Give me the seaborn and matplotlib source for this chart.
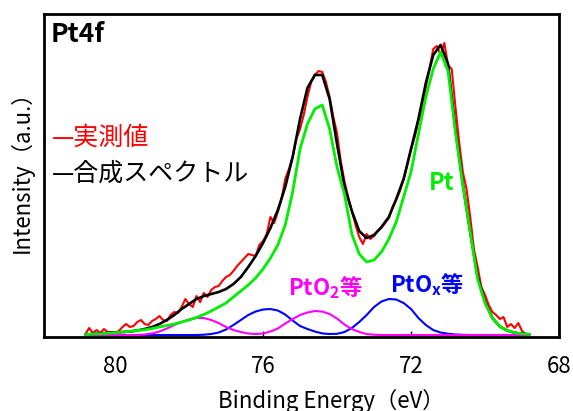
import numpy as np
import pandas as pd
import matplotlib
matplotlib.use("Agg")
import matplotlib.pyplot as plt
import seaborn as sns

# 結合エネルギー (eV) - フィット曲線用
energy = [80.8, 80.6, 80.4, 80.2, 80.0, 79.8, 79.6, 79.4, 79.2, 79.0,
          78.8, 78.6, 78.4, 78.2, 78.0, 77.8, 77.6, 77.4, 77.2, 77.0,
          76.8, 76.6, 76.4, 76.2, 76.0, 75.8, 75.6, 75.4, 75.2, 75.0,
          74.8, 74.6, 74.4, 74.2, 74.0, 73.8, 73.6, 73.4, 73.2, 73.0,
          72.8, 72.6, 72.4, 72.2, 72.0, 71.8, 71.6, 71.4, 71.2, 71.0,
          70.8, 70.6, 70.4, 70.2, 70.0, 69.8, 69.6, 69.4, 69.2, 69.0, 68.8]

# 合成スペクトル
fit_sum = [2.5, 3, 3.5, 4, 4.5, 5, 5.5, 6.5, 8, 10,
           13, 17, 22, 28, 33, 38, 41, 43, 45, 48,
           53, 60, 70, 81, 94, 109, 127, 150, 180, 218,
           249, 262, 262, 238, 193, 151, 126, 106, 99, 102,
           110, 120, 138, 158, 188, 218, 254, 282, 292, 273,
           208, 153, 105, 60, 35, 19, 10.5, 6.5, 4.3, 3.3, 2.7]

# Pt 成分
pt_metal = [2.5, 3, 3.3, 3.7, 4.2, 5, 5.7, 6.5, 7.3, 8.5,
            10, 11.5, 13, 15, 17, 19.5, 22.5, 26, 30, 34,
            40, 46, 52, 59, 68, 79, 92, 112, 145, 188,
            213, 228, 232, 208, 170, 143, 103, 83, 75, 77,
            85, 98, 115, 140, 165, 203, 240, 268, 285, 266,
            205, 152, 105, 58, 34, 19, 10.5, 6.5, 4.3, 3.3, 2.7]

# PtO2 等
pto2 = [2, 2, 2, 2, 2, 2, 2, 2, 2.5, 3.5,
        5.5, 8.5, 12, 15, 17.5, 19, 19, 17, 14, 10,
        7, 5, 3.5, 3, 3.5, 5.5, 8.5, 13.5, 18, 22,
        24.5, 26, 25.5, 23, 18.5, 12.5, 8, 5, 3, 2.3,
        2, 2, 2, 2, 2, 2, 2, 2, 2, 2,
        2, 2, 2, 2, 2, 2, 2, 2, 2, 2, 2]

# PtOx 等
ptox = [2, 2, 2, 2, 2, 2, 2, 2, 2, 2,
        2, 2, 2, 2, 2, 2, 2.3, 3, 4.5, 7.5,
        12, 17, 22, 25.5, 27.5, 28, 26.5, 22.5, 16.5, 11,
        8, 5.5, 3.6, 3, 3.2, 5, 9, 15, 22, 30,
        35.5, 38, 37.5, 34, 28, 19, 12, 7, 4.5, 3.3,
        2.5, 2.2, 2, 2, 2, 2, 2, 2, 2, 2, 2]

# 実測値 (0.1 eV 刻み)
meas_energy = [round(80.8 - 0.1 * i, 1) for i in range(120)]
measured = [3, 9, 4, 7, 4, 8, 5, 5, 4, 6,
            10, 13, 10, 11, 15, 17, 13, 12, 16, 18,
            21, 17, 16, 22, 25, 24, 30, 38, 33, 30,
            41, 35, 44, 40, 47, 50, 51, 56, 60, 62,
            66, 71, 75, 79, 83, 82, 81, 92, 96, 103,
            120, 114, 125, 138, 158, 168, 180, 198, 208, 222,
            240, 255, 262, 266, 265, 255, 240, 220, 204, 176,
            156, 140, 126, 112, 100, 93, 103, 98, 101, 106,
            109, 114, 119, 130, 137, 146, 158, 172, 188, 200,
            216, 226, 250, 268, 288, 291, 282, 294, 272, 268,
            230, 195, 165, 148, 120, 88, 70, 50, 42, 32,
            25, 22, 18, 20, 10, 13, 9, 14, 6, 3]

xticks = [80, 76, 72, 68]

sns.set_style("ticks")
plt.rcParams['font.family'] = ['Noto Sans CJK JP', 'DejaVu Sans']
plt.rcParams['text.color'] = 'black'
plt.rcParams['axes.labelcolor'] = 'black'
plt.rcParams['xtick.color'] = 'black'

fig = plt.figure(figsize=(5.73, 4.11), dpi=100)
ax = fig.add_axes([0.0768, 0.18, 0.8988, 0.786])

sns.lineplot(x=meas_energy, y=measured, color='#ff0000', lw=1.5,
             estimator=None, ax=ax)
sns.lineplot(x=energy, y=fit_sum, color='black', lw=1.9,
             estimator=None, ax=ax)
sns.lineplot(x=energy, y=ptox, color='#0000ff', lw=1.5,
             estimator=None, ax=ax)
sns.lineplot(x=energy, y=pto2, color='#ff00ff', lw=1.5,
             estimator=None, ax=ax)
sns.lineplot(x=energy, y=pt_metal, color='#00ee00', lw=2.0,
             estimator=None, ax=ax)

ax.set_xlim(81.92, 68)
ax.set_ylim(0, 323)
ax.set_xticks(xticks)
ax.set_yticks([])
ax.tick_params(axis='x', direction='in', length=4, width=1,
               labelsize=16, pad=13, colors='black')
for s in ax.spines.values():
    s.set_linewidth(2)
    s.set_color('black')

ax.set_xlabel('Binding Energy（eV）', fontsize=16)
ax.xaxis.set_label_coords(0.557, -0.162)
ax.set_ylabel('Intensity（a.u.）', fontsize=16)
ax.yaxis.set_label_coords(-0.02, 0.53)

ax.text(0.012, 0.978, 'Pt4f', transform=ax.transAxes, fontsize=19,
        fontweight='bold', ha='left', va='top')
ax.text(0.015, 0.616, '—実測値', transform=ax.transAxes, fontsize=18,
        color='#ff0000', ha='left', va='center')
ax.text(0.015, 0.505, '—合成スペクトル', transform=ax.transAxes,
        fontsize=18, color='black', ha='left', va='center')
ax.text(71.16, 154, 'Pt', fontsize=17, fontweight='bold',
        color='#00ee00', ha='center', va='center')
ax.text(74.32, 49, r'PtO$_\mathregular{2}$等', fontsize=16,
        fontweight='bold', color='#ff00ff', ha='center', va='center')
ax.text(71.57, 52, r'PtO$_\mathregular{x}$等', fontsize=16,
        fontweight='bold', color='#0000ff', ha='center', va='center')

fig.savefig('out.png', dpi=100)
